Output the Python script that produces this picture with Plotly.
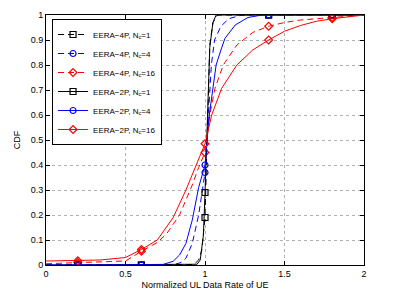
import plotly.graph_objects as go

# ---- data ----
bk4_x = [0, 0.2, 0.6, 0.9, 0.93, 0.96, 0.98, 1.0, 1.01, 1.02, 1.03, 1.05, 1.08, 1.4, 1.8, 2.0]
bk4_y = [0, 0, 0, 0, 0.002, 0.02, 0.06, 0.19, 0.4, 0.68, 0.88, 0.97, 1.0, 1, 1, 1]

bk2_x = [0, 0.2, 0.6, 0.92, 0.95, 0.97, 0.99, 1.0, 1.01, 1.02, 1.03, 1.05, 1.07, 1.4, 1.8, 2.0]
bk2_y = [0, 0, 0, 0, 0.003, 0.02, 0.12, 0.29, 0.5, 0.72, 0.87, 0.97, 1.0, 1, 1, 1]

bl4_x = [0, 0.2, 0.6, 0.8, 0.85, 0.88, 0.92, 0.96, 1.0, 1.02, 1.04, 1.06, 1.1, 1.15, 1.22, 1.3, 1.4, 1.8, 2.0]
bl4_y = [0, 0, 0, 0.001, 0.01, 0.027, 0.086, 0.2, 0.37, 0.6, 0.8, 0.9, 0.955, 0.985, 0.998, 1, 1, 1, 1]

bl2_x = [0, 0.2, 0.6, 0.73, 0.8, 0.84, 0.88, 0.92, 0.96, 1.0, 1.027, 1.05, 1.07, 1.1, 1.126, 1.19, 1.27, 1.36, 1.4, 1.8, 2.0]
bl2_y = [0, 0, 0, 0.001, 0.015, 0.04, 0.086, 0.18, 0.31, 0.40, 0.6, 0.707, 0.8, 0.86, 0.907, 0.96, 0.99, 1.0, 1, 1, 1]

rd4_x = [0, 0.2, 0.4, 0.5, 0.6, 0.7, 0.76, 0.84, 0.92, 0.96, 1.0, 1.03, 1.063, 1.115, 1.2, 1.3, 1.4, 1.5, 1.6, 1.8, 2.0]
rd4_y = [0.005, 0.01, 0.012, 0.016, 0.055, 0.09, 0.126, 0.2, 0.32, 0.39, 0.45, 0.6, 0.707, 0.8, 0.88, 0.93, 0.955, 0.97, 0.98, 0.99, 1.0]

rd2_x = [0, 0.2, 0.34, 0.5, 0.6, 0.7, 0.8, 0.88, 0.94, 1.0, 1.042, 1.105, 1.2, 1.3, 1.4, 1.5, 1.6, 1.7, 1.8, 1.9, 2.0]
rd2_y = [0.016, 0.017, 0.02, 0.03, 0.062, 0.1, 0.19, 0.3, 0.39, 0.485, 0.6, 0.707, 0.8, 0.86, 0.9, 0.935, 0.958, 0.975, 0.985, 0.993, 1.0]

mk_x = [0.2, 0.6, 1.0, 1.4, 1.8]
bk4_my = [0, 0, 0.19, 1, 1]
bl4_my = [0, 0, 0.37, 1, 1]
rd4_my = [0.01, 0.055, 0.45, 0.955, 0.99]
bk2_my = [0, 0, 0.29, 1, 1]
bl2_my = [0, 0, 0.40, 1, 1]
rd2_my = [0.017, 0.062, 0.485, 0.9, 0.985]

names = ["EERA−4P, N<sub>c</sub>=1", "EERA−4P, N<sub>c</sub>=4", "EERA−4P, N<sub>c</sub>=16",
         "EERA−2P, N<sub>c</sub>=1", "EERA−2P, N<sub>c</sub>=4", "EERA−2P, N<sub>c</sub>=16"]

series = [
    (bk4_x, bk4_y, bk4_my, "#000000", "square-open", "6px,4px"),
    (bl4_x, bl4_y, bl4_my, "#0000ff", "circle-open", "6px,4px"),
    (rd4_x, rd4_y, rd4_my, "#ff0000", "diamond-open", "6px,4px"),
    (bk2_x, bk2_y, bk2_my, "#000000", "square-open", "solid"),
    (bl2_x, bl2_y, bl2_my, "#0000ff", "circle-open", "solid"),
    (rd2_x, rd2_y, rd2_my, "#ff0000", "diamond-open", "solid"),
]

fig = go.Figure()
for (xs, ys, my, col, sym, dash), nm in zip(series, names):
    fig.add_trace(go.Scatter(x=xs, y=ys, mode="lines", showlegend=False,
                             line=dict(color=col, width=1, dash=dash)))
    fig.add_trace(go.Scatter(x=mk_x, y=my, mode="markers", showlegend=False,
                             marker=dict(symbol=sym, size=6, color=col,
                                         line=dict(color=col, width=1.2))))
    fig.add_trace(go.Scatter(x=[None], y=[None], mode="lines+markers", name=nm,
                             line=dict(color=col, width=1, dash=dash),
                             marker=dict(symbol=sym, size=6, color=col,
                                         line=dict(color=col, width=1.2))))

axis_common = dict(showline=True, linecolor="black", linewidth=1, mirror="ticks",
                   ticks="inside", ticklen=4, tickcolor="black",
                   showgrid=True, gridcolor="#b0b0b0", griddash="dot", gridwidth=1,
                   zeroline=False, automargin=False,
                   tickfont=dict(size=9, color="black"))

fig.update_xaxes(range=[0, 2], tickvals=[0, 0.5, 1, 1.5, 2], ticktext=["0", "0.5", "1", "1.5", "2"],
                 title=dict(text="Normalized UL Data Rate of UE", font=dict(size=9, color="black"), standoff=3),
                 **axis_common)
fig.update_yaxes(range=[0, 1], tickvals=[i / 10 for i in range(11)],
                 ticktext=["0"] + [f"0.{i}" for i in range(1, 10)] + ["1"],
                 title=dict(text="CDF", font=dict(size=9, color="black"), standoff=8),
                 **axis_common)

fig.update_layout(
    width=400, height=291,
    margin=dict(l=46, r=36, t=15, b=26),
    paper_bgcolor="white", plot_bgcolor="white",
    font=dict(family="Liberation Sans, Arial, sans-serif", size=9, color="black"),
    legend=dict(x=0.019, y=0.984, xanchor="left", yanchor="top",
                bgcolor="white", bordercolor="black", borderwidth=1,
                font=dict(size=8), itemwidth=30, tracegroupgap=0),
)

fig.write_html("out.html")
